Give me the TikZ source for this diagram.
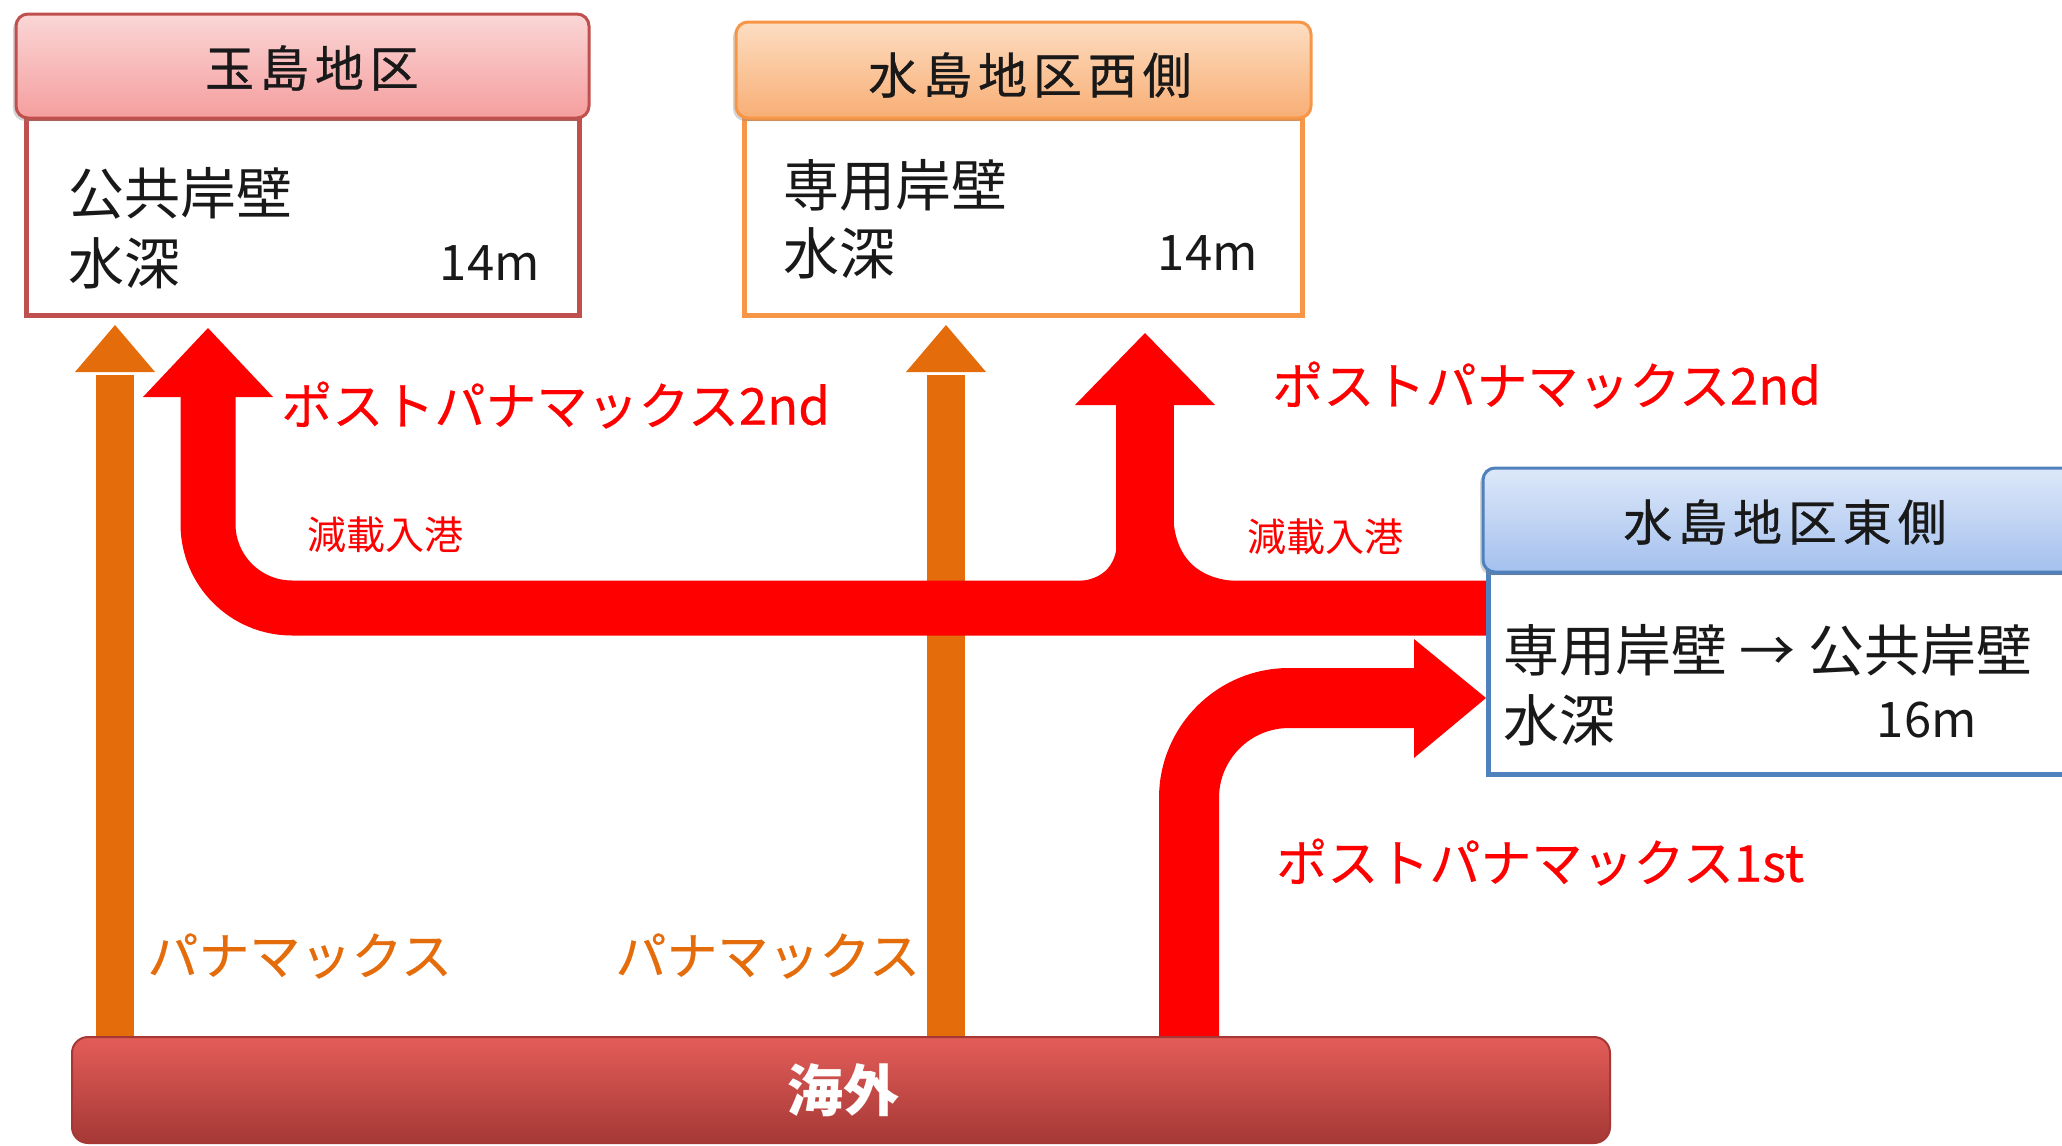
\documentclass[tikz,border=0pt]{standalone}
\usepackage{fontspec}
\setmainfont{Noto Sans CJK JP}
\newfontfamily\jphdr[LetterSpace=12, FakeBold=0.6]{Noto Sans CJK JP}
\newfontfamily\jplbl[FakeBold=0.4]{Noto Sans CJK JP}
\usetikzlibrary{shadows,fit,calc}
\definecolor{arrred}{HTML}{FE0000}
\definecolor{arrorange}{HTML}{E46C0A}
\definecolor{tamaline}{HTML}{C0504D}
\definecolor{tamatop}{HTML}{FBD6D6}
\definecolor{tamabot}{HTML}{F59E9E}
\definecolor{westline}{HTML}{F79646}
\definecolor{westtop}{HTML}{FDDDC2}
\definecolor{westbot}{HTML}{F8AE74}
\definecolor{eastline}{HTML}{4F81BD}
\definecolor{easttop}{HTML}{DDE8F9}
\definecolor{eastbot}{HTML}{A4C0EE}
\definecolor{kaitop}{HTML}{E35D59}
\definecolor{kaimid}{HTML}{C7433F}
\definecolor{kaibot}{HTML}{A53835}
\tikzset{
  bodybox/.style={inner sep=0pt, fill=white, line width=2.5pt},
  hdrbox/.style={inner sep=0pt, rounded corners=6pt, line width=1.5pt,
     drop shadow={shadow xshift=-1.5pt, shadow yshift=-1.5pt, opacity=0.35}},
  hdrtxt/.style={font=\jphdr\fontsize{24.5}{28}\selectfont, text=black!90, inner sep=0pt},
  bodytxt/.style={font=\fontsize{28}{32}\selectfont, text=black!90, inner sep=0pt, anchor=west},
  deptxt/.style={font=\fontsize{24.5}{28}\selectfont, text=black!90, inner sep=0pt, anchor=east},
  redlbl/.style={font=\jplbl\fontsize{25.5}{30}\selectfont, text=arrred, inner sep=0pt, anchor=west},
  smallred/.style={font=\fontsize{19.5}{24}\selectfont, text=arrred, inner sep=0pt, anchor=west},
  orlbl/.style={font=\jplbl\fontsize{25.5}{30}\selectfont, text=arrorange, inner sep=0pt, anchor=west},
  orshaft/.style={draw=arrorange, line width=19pt},
  redshaft/.style={draw=arrred},
}
\begin{document}
\begin{tikzpicture}[x=0.5pt,y=-0.5pt]
\useasboundingbox (0,0) rectangle (2062,1146);
\clip (0,0) rectangle (2062,1146);

% ---------------- orange arrows (Panamax) ----------------
\coordinate (oAbot) at (115,1045);
\coordinate (oAtip) at (115,325);
\coordinate (oBbot) at (946,1045);
\coordinate (oBtip) at (946,325);
\draw[orshaft] (oAbot) -- ($(oAtip)+(0,50)$);
\fill[arrorange] ($(oAtip)+(-40,47)$) -- (oAtip) -- ($(oAtip)+(40,47)$) -- cycle;
\draw[orshaft] (oBbot) -- ($(oBtip)+(0,50)$);
\fill[arrorange] ($(oBtip)+(-40,47)$) -- (oBtip) -- ($(oBtip)+(40,47)$) -- cycle;

% ---------------- red arrows ----------------
\coordinate (rMstart) at (1490,608);
\coordinate (rMtip) at (208,328);
\draw[redshaft, line width=27.5pt, rounded corners=42pt]
   (rMstart) -- (rMstart -| rMtip) -- ($(rMtip)+(0,64)$);
\fill[arrred] ($(rMtip)+(-65,69)$) -- (rMtip) -- ($(rMtip)+(65,69)$) -- cycle;

\coordinate (rBtip) at (1145,333);
\draw[redshaft, line width=29pt] (1145,612) -- ($(rBtip)+(0,67)$);
\fill[arrred] ($(rBtip)+(-70,72)$) -- (rBtip) -- ($(rBtip)+(70,72)$) -- cycle;
\fill[arrred] (1072,581.5) .. controls (1100,581.5) and (1117,568) .. (1117,540)
   -- (1117,595) -- (1072,595) -- cycle;
\fill[arrred] (1245,581.5) .. controls (1195,581.5) and (1173,555) .. (1173,510)
   -- (1173,595) -- (1245,595) -- cycle;

\coordinate (r1bot) at (1189,1045);
\coordinate (r1tip) at (1486,698);
\draw[redshaft, line width=30pt, rounded corners=50pt]
   (r1bot) -- (r1bot |- r1tip) -- ($(r1tip)+(-66,0)$);
\fill[arrred] ($(r1tip)+(-72,-59)$) -- (r1tip) -- ($(r1tip)+(-72,60)$) -- cycle;

% ---------------- boxes ----------------
\node[bodybox, fit={(26,118)(579,315)}, draw=tamaline] (tamaB) {};
\node[hdrbox, fit={(16,14)(589,118)}, draw=tamaline, top color=tamatop, bottom color=tamabot] (tamaH) {};
\node[hdrtxt] (tamaT) at (312,68) {玉島地区};
\node[bodytxt] (tamaL1) at (68,193) {公共岸壁};
\node[bodytxt] (tamaL2) at (68,263) {水深};
\node[deptxt] (tamaD) at (540,263) {14m};

\node[bodybox, fit={(744,118)(1302,315)}, draw=westline] (westB) {};
\node[hdrbox, fit={(736,22)(1311,118)}, draw=westline, top color=westtop, bottom color=westbot] (westH) {};
\node[hdrtxt] (westT) at (1030,75) {水島地区西側};
\node[bodytxt] (westL1) at (783,185) {専用岸壁};
\node[bodytxt] (westL2) at (783,253) {水深};
\node[deptxt] (westD) at (1258,253) {14m};

\node[bodybox, fit={(1488,572)(2075,774)}, draw=eastline] (eastB) {};
\node[hdrbox, fit={(1483,468)(2080,572)}, draw=eastline, top color=easttop, bottom color=eastbot] (eastH) {};
\node[hdrtxt] (eastT) at (1785,522) {水島地区東側};
\node[bodytxt] (eastL1) at (1503,650) {専用岸壁 → 公共岸壁};
\node[bodytxt] (eastL2) at (1503,720) {水深};
\node[deptxt] (eastD) at (1977,720) {16m};

\node[fit={(72,1037)(1610,1143)}, inner sep=0pt, rounded corners=8pt, draw=kaibot, line width=1pt,
      top color=kaitop, middle color=kaimid, bottom color=kaibot] (kaigai) {};
\node[font=\bfseries\fontsize{28}{32}\selectfont, text=white, inner sep=0pt] (kaigaiT) at (843,1090) {海外};

% ---------------- labels ----------------
\node[redlbl] (pp2a) at (281,405) {ポストパナマックス2nd};
\node[redlbl] (pp2b) at (1272,385) {ポストパナマックス2nd};
\node[smallred] (gen1) at (307,535) {減載入港};
\node[smallred] (gen2) at (1247,537) {減載入港};
\node[redlbl] (pp1) at (1276,862) {ポストパナマックス1st};
\node[orlbl] (pm1) at (147,956) {パナマックス};
\node[orlbl] (pm2) at (615,956) {パナマックス};
\end{tikzpicture}
\end{document}
